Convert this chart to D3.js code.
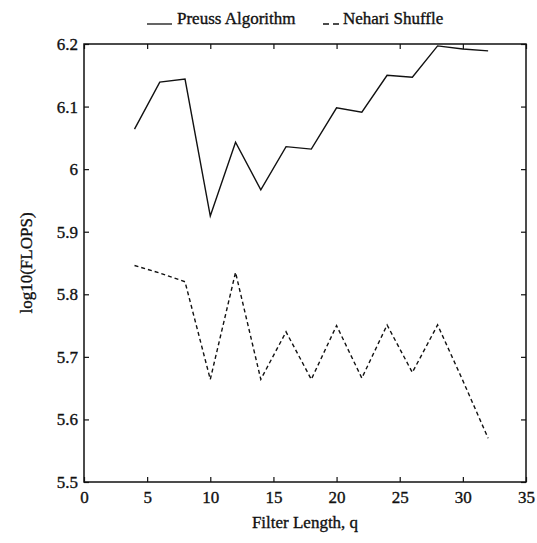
<!DOCTYPE html>
<html>
<head>
<meta charset="utf-8">
<script src="https://cdnjs.cloudflare.com/ajax/libs/d3/7.8.5/d3.min.js"></script>
<style>
  body { margin: 0; background: #fff; }
  text { font-family: "Liberation Serif", "DejaVu Serif", serif; fill: #111; stroke: #111; stroke-width: 0.35; }
  .axis path { display: none; }
  .axis line { stroke: #111; stroke-width: 1.2; }
</style>
</head>
<body>
<svg id="chart" width="537" height="543"></svg>
<script>
// filter lengths q
var filterLength = [4, 6, 8, 10, 12, 14, 16, 18, 20, 22, 24, 26, 28, 30, 32];
// log10(FLOPS)
var preuss = [6.064, 6.139, 6.144, 5.925, 6.043, 5.967, 6.036, 6.032, 6.098, 6.091, 6.150, 6.147, 6.197, 6.192, 6.189];
var nehari = [5.846, 5.834, 5.820, 5.664, 5.835, 5.664, 5.740, 5.664, 5.750, 5.666, 5.751, 5.675, 5.751, 5.662, 5.570];
var xTicks = [0, 5, 10, 15, 20, 25, 30, 35];
var yTicks = [5.5, 5.6, 5.7, 5.8, 5.9, 6, 6.1, 6.2];

var svg = d3.select("#chart");
var plotL = 84, plotR = 526, plotT = 44, plotB = 482;

var x = d3.scaleLinear().domain([0, 35]).range([plotL, plotR]);
var y = d3.scaleLinear().domain([5.5, 6.2]).range([plotB, plotT]);

var fmtY = function(d) { return String(+d.toFixed(1)); };

// bottom axis with labels, ticks pointing inward
svg.append("g")
  .attr("class", "axis")
  .attr("transform", "translate(0," + plotB + ")")
  .call(d3.axisBottom(x).tickValues(xTicks).tickSizeInner(-5).tickSizeOuter(0).tickPadding(9))
  .selectAll("text").attr("font-size", 17);

// top axis, ticks only
svg.append("g")
  .attr("class", "axis")
  .attr("transform", "translate(0," + plotT + ")")
  .call(d3.axisTop(x).tickValues(xTicks).tickSizeInner(-5).tickSizeOuter(0).tickFormat(""));

// left axis with labels
svg.append("g")
  .attr("class", "axis")
  .attr("transform", "translate(" + plotL + ",0)")
  .call(d3.axisLeft(y).tickValues(yTicks).tickSizeInner(-5).tickSizeOuter(0).tickPadding(6).tickFormat(fmtY))
  .selectAll("text").attr("font-size", 17);

// right axis, ticks only
svg.append("g")
  .attr("class", "axis")
  .attr("transform", "translate(" + plotR + ",0)")
  .call(d3.axisRight(y).tickValues(yTicks).tickSizeInner(-5).tickSizeOuter(0).tickFormat(""));

// frame
svg.append("rect")
  .attr("x", plotL).attr("y", plotT)
  .attr("width", plotR - plotL).attr("height", plotB - plotT)
  .attr("fill", "none").attr("stroke", "#111").attr("stroke-width", 1.5);

var line = d3.line()
  .x(function(d, i) { return x(filterLength[i]); })
  .y(function(d) { return y(d); });

svg.append("path")
  .datum(preuss)
  .attr("d", line)
  .attr("fill", "none").attr("stroke", "#111").attr("stroke-width", 1.4);

svg.append("path")
  .datum(nehari)
  .attr("d", line)
  .attr("fill", "none").attr("stroke", "#111").attr("stroke-width", 1.4)
  .attr("stroke-dasharray", "4,3");

// legend
var legend = svg.append("g").attr("font-size", 17);
legend.append("line").attr("x1", 147).attr("x2", 172).attr("y1", 24).attr("y2", 24)
  .attr("stroke", "#111").attr("stroke-width", 1.3);
legend.append("text").attr("x", 177).attr("y", 24).text("Preuss Algorithm");
legend.append("line").attr("x1", 323).attr("x2", 340).attr("y1", 24).attr("y2", 24)
  .attr("stroke", "#111").attr("stroke-width", 1.3).attr("stroke-dasharray", "6,4");
legend.append("text").attr("x", 343).attr("y", 24).text("Nehari Shuffle");

// axis titles
svg.append("text")
  .attr("x", (plotL + plotR) / 2).attr("y", 528)
  .attr("text-anchor", "middle").attr("font-size", 17)
  .text("Filter Length, q");

svg.append("text")
  .attr("transform", "translate(32," + ((plotT + plotB) / 2) + ") rotate(-90)")
  .attr("text-anchor", "middle").attr("font-size", 17)
  .text("log10(FLOPS)");
</script>
</body>
</html>
